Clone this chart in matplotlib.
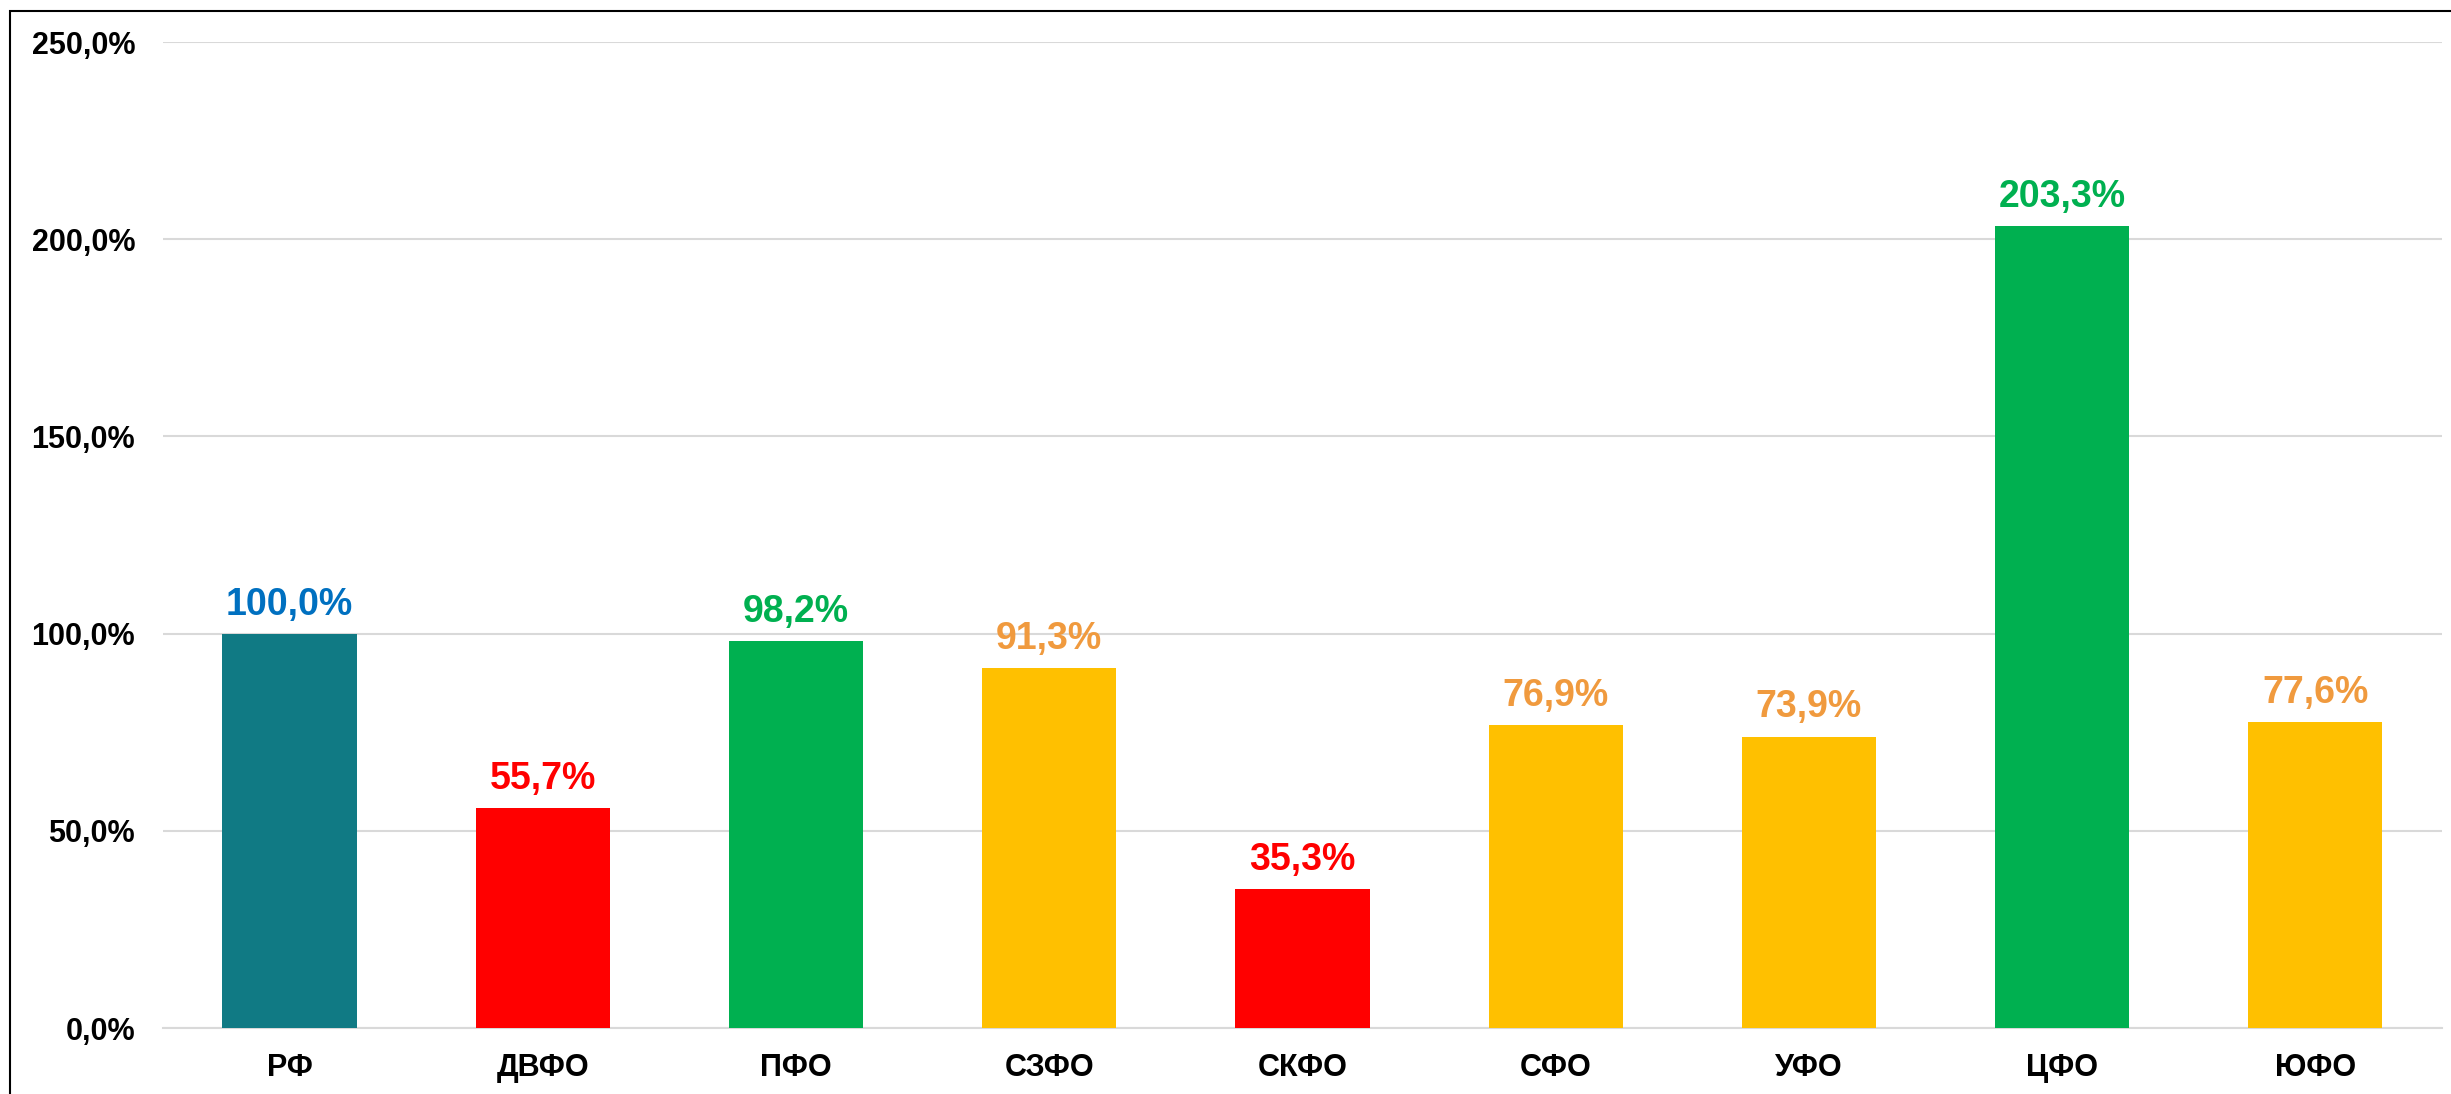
import matplotlib
matplotlib.use("Agg")
import matplotlib.pyplot as plt
from matplotlib.patches import Rectangle
from matplotlib.ticker import FuncFormatter

# data
regions = ["РФ", "ДВФО", "ПФО", "СЗФО", "СКФО", "СФО", "УФО", "ЦФО", "ЮФО"]
values = [100.0, 55.7, 98.2, 91.3, 35.3, 76.9, 73.9, 203.3, 77.6]
bar_colors = ["#107A84", "#FF0000", "#00B050", "#FFC000", "#FF0000",
              "#FFC000", "#FFC000", "#00B050", "#FFC000"]
label_colors = ["#0070C0", "#FF0000", "#00B050", "#F09A3E", "#FF0000",
                "#F09A3E", "#F09A3E", "#00B050", "#F09A3E"]

plt.rcParams['font.family'] = ['Liberation Sans', 'DejaVu Sans']

fig = plt.figure(figsize=(24.51, 10.94), dpi=100)
ax = fig.add_axes([0.0665, 0.0603, 0.9298, 0.9013])

x = range(len(regions))
ax.bar(x, values, width=0.53, color=bar_colors, zorder=3)

for i, v in enumerate(values):
    ax.annotate(f"{v:.1f}%".replace(".", ","), (i, v), xytext=(0, 8),
                textcoords="offset points", ha="center", va="bottom",
                fontsize=27, fontweight="bold", color=label_colors[i])

ax.set_xlim(-0.5, len(regions) - 0.5)
ax.set_ylim(0, 250)
ax.set_yticks([0, 50, 100, 150, 200, 250])
ax.yaxis.set_major_formatter(FuncFormatter(lambda v, p: f"{v:.1f}%".replace(".", ",")))
ax.set_xticks(list(x))
ax.set_xticklabels(regions)

ax.grid(axis="y", color="#D9D9D9", linewidth=1.5, zorder=0)
ax.tick_params(axis="both", length=0, labelsize=22)
ax.tick_params(axis="y", pad=20)
ax.tick_params(axis="x", pad=18)
for lbl in ax.get_xticklabels() + ax.get_yticklabels():
    lbl.set_fontweight("bold")

for side in ["top", "right", "left"]:
    ax.spines[side].set_visible(False)
ax.spines["bottom"].set_color("#D9D9D9")
ax.spines["bottom"].set_linewidth(1.5)

# outer frame (cut off at right and bottom like the original)
fig.patches.append(Rectangle((10 / 2451, -0.05), 1.1, 1 - 11 / 1094 + 0.05,
                             transform=fig.transFigure, fill=False,
                             edgecolor="black", linewidth=1.5))

fig.savefig("out.png", dpi=100)
